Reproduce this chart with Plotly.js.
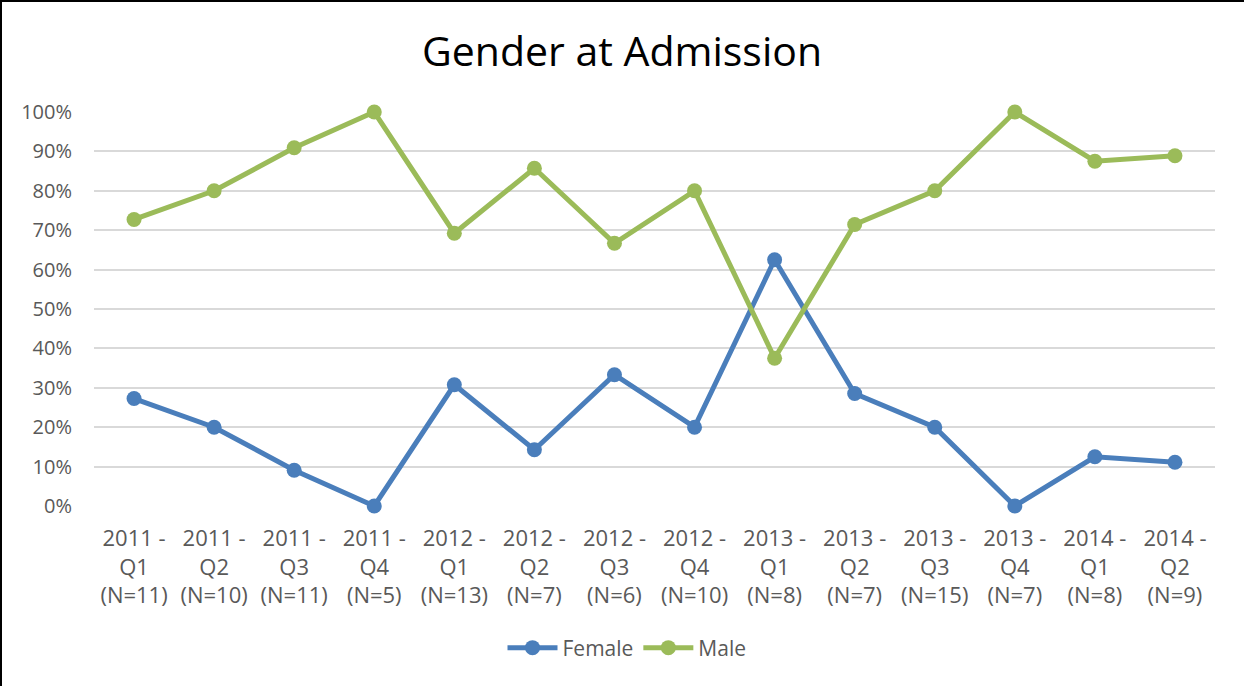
<!DOCTYPE html>
<html>
<head>
<meta charset="utf-8">
<script src="https://cdn.plot.ly/plotly-3.0.1.min.js"></script>
<style>
  html, body { margin: 0; padding: 0; background: #fff; }
  #frame { position: absolute; left: 0; top: 0; width: 1244px; height: 686px; box-sizing: border-box; border-left: 2px solid #000; border-top: 2px solid #000; }
  #chart { position: absolute; left: 0; top: 0; width: 1244px; height: 686px; }
</style>
</head>
<body>
<div id="chart"></div>
<div id="frame"></div>
<script>
const categories = [
  "2011 -<br>Q1<br>(N=11)", "2011 -<br>Q2<br>(N=10)", "2011 -<br>Q3<br>(N=11)", "2011 -<br>Q4<br>(N=5)",
  "2012 -<br>Q1<br>(N=13)", "2012 -<br>Q2<br>(N=7)", "2012 -<br>Q3<br>(N=6)", "2012 -<br>Q4<br>(N=10)",
  "2013 -<br>Q1<br>(N=8)", "2013 -<br>Q2<br>(N=7)", "2013 -<br>Q3<br>(N=15)", "2013 -<br>Q4<br>(N=7)",
  "2014 -<br>Q1<br>(N=8)", "2014 -<br>Q2<br>(N=9)"
];
const female = [27.27, 20.0, 9.09, 0.0, 30.77, 14.29, 33.33, 20.0, 62.5, 28.57, 20.0, 0.0, 12.5, 11.11];
const male   = [72.73, 80.0, 90.91, 100.0, 69.23, 85.71, 66.67, 80.0, 37.5, 71.43, 80.0, 100.0, 87.5, 88.89];
const yTicks = [0, 10, 20, 30, 40, 50, 60, 70, 80, 90, 100];

const FONT = "'Open Sans', 'Liberation Sans', sans-serif";

const traces = [
  { type: 'scatter', mode: 'lines+markers', name: 'Female', x: categories, y: female,
    line: { color: '#4a7ebb', width: 5 }, marker: { color: '#4a7ebb', size: 15 }, cliponaxis: false },
  { type: 'scatter', mode: 'lines+markers', name: 'Male', x: categories, y: male,
    line: { color: '#9bbb59', width: 5 }, marker: { color: '#9bbb59', size: 15 }, cliponaxis: false }
];

const layout = {
  width: 1244, height: 686,
  paper_bgcolor: '#fff', plot_bgcolor: '#fff',
  margin: { l: 94, r: 29, t: 112, b: 180 },
  title: { text: 'Gender at Admission', font: { family: FONT, size: 41, color: '#000' },
           x: 0.5, xanchor: 'center', y: 1 - 52/686, yanchor: 'middle' },
  font: { family: FONT, color: '#595959', size: 20 },
  xaxis: { type: 'category', range: [-0.5, 13.5], showgrid: false, zeroline: false, showline: false,
           ticks: '', tickfont: { size: 22, color: '#595959' }, ticklabelstandoff: 17, tickangle: 0, fixedrange: true },
  yaxis: { range: [0, 100], tickvals: yTicks, ticktext: yTicks.map(v => v + '%'), showgrid: true, gridcolor: '#d9d9d9', gridwidth: 2,
           zeroline: false, showline: false, ticks: '', tickfont: { size: 20, color: '#595959' }, ticklabelstandoff: 21, fixedrange: true },
  showlegend: true,
  legend: { orientation: 'h', x: (627-94)/1121, xanchor: 'center', y: -(648-506)/394, yanchor: 'middle',
            font: { size: 21, color: '#595959' }, itemwidth: 50 },
  hovermode: false
};

Plotly.newPlot('chart', traces, layout, { displayModeBar: false, staticPlot: true });
</script>
</body>
</html>
